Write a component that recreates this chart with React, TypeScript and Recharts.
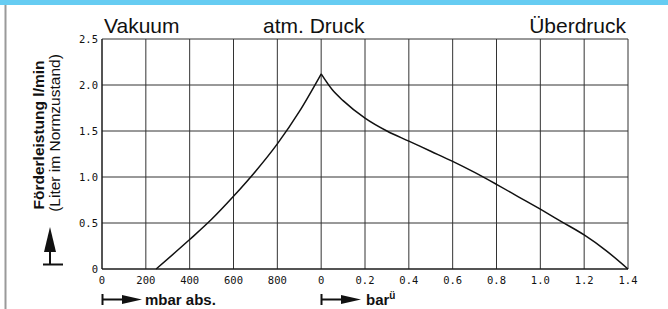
import React from "react"
import {
  LineChart,
  Line,
  XAxis,
  YAxis,
  CartesianGrid
} from "recharts"

// vacuum side (mbar abs.) and overpressure side (bar ü)
const vacuumMbar = [247, 400, 500, 600, 700, 800, 900, 1000]
const vacuumFlow = [0, 0.32, 0.54, 0.79, 1.06, 1.36, 1.71, 2.12]

const pressureBar = [0, 0.05, 0.1, 0.2, 0.3, 0.4, 0.5, 0.6, 0.7, 0.8, 0.9, 1.0, 1.1, 1.2, 1.3, 1.4]
const pressureFlow = [2.12, 1.95, 1.83, 1.64, 1.5, 1.39, 1.28, 1.17, 1.05, 0.92, 0.785, 0.65, 0.51, 0.37, 0.2, 0]

const xTickLabels = ["0", "200", "400", "600", "800", "0", "0.2", "0.4", "0.6", "0.8", "1.0", "1.2", "1.4"]
const yTicks = [0, 0.5, 1, 1.5, 2, 2.5]

// one shared axis: 200 mbar and 0.2 bar are both one grid step
const data = [
  ...vacuumMbar.map((m, i) => ({
    pos: m / 200,
    vac: vacuumFlow[i],
    over: i === vacuumMbar.length - 1 ? pressureFlow[0] : null
  })),
  ...pressureBar.slice(1).map((b, i) => ({
    pos: 5 + b / 0.2,
    vac: null,
    over: pressureFlow[i + 1]
  }))
]

const tickFont = { fontFamily: "DejaVu Sans Mono", fontSize: 10.5, fill: "#111" }
const sans = "Liberation Sans, Arial, sans-serif"

export default function App() {
  return (
    <div style={{ position: "relative", width: 668, height: 309, background: "#fff" }}>
      <style>{`body{margin:0}`}</style>

      <LineChart
        width={668}
        height={309}
        data={data}
        margin={{ top: 39, right: 40, bottom: 20, left: 72 }}
      >
        <CartesianGrid stroke="#333" strokeWidth={1} />

        <XAxis
          dataKey="pos"
          type="number"
          domain={[0, 12]}
          ticks={xTickLabels.map((_, i) => i)}
          tickFormatter={(v: number) => xTickLabels[v]}
          tick={tickFont}
          tickLine={false}
          axisLine={{ stroke: "#111" }}
          height={20}
          interval={0}
        />

        <YAxis
          type="number"
          domain={[0, 2.5]}
          ticks={yTicks}
          tickFormatter={(v: number) => (v === 0 ? "0" : v.toFixed(1))}
          tick={tickFont}
          tickLine={false}
          tickSize={2}
          axisLine={{ stroke: "#111" }}
          width={30}
          interval={0}
        />

        <Line
          dataKey="vac"
          type="monotone"
          stroke="#111"
          strokeWidth={1.5}
          dot={false}
          isAnimationActive={false}
        />
        <Line
          dataKey="over"
          type="monotone"
          stroke="#111"
          strokeWidth={1.5}
          dot={false}
          isAnimationActive={false}
        />
      </LineChart>

      <svg
        width={668}
        height={309}
        style={{ position: "absolute", left: 0, top: 0, pointerEvents: "none" }}
      >
        <rect x={0} y={0} width={668} height={5} fill="#66CCF2" />
        <line x1={5.5} y1={5} x2={5.5} y2={309} stroke="#9a9a9a" strokeWidth={2} />

        <g fontFamily={sans} fontSize={21} fill="#111">
          <text x={104} y={33}>Vakuum</text>
          <text x={263} y={33}>atm. Druck</text>
          <text x={626} y={33} textAnchor="end">Überdruck</text>
        </g>

        <g fontFamily={sans} fontSize={15.5} fill="#111">
          <text transform="translate(44,135) rotate(-90)" textAnchor="middle" fontWeight="bold">
            Förderleistung l/min
          </text>
          <text transform="translate(60,133) rotate(-90)" textAnchor="middle">
            (Liter im Normzustand)
          </text>
        </g>

        {/* up arrow */}
        <polygon points="50,227 44,252 56,252" fill="#111" />
        <line x1={50} y1={252} x2={50} y2={264} stroke="#111" strokeWidth={2} />
        <line x1={43} y1={264.5} x2={63} y2={264.5} stroke="#111" strokeWidth={2} />

        {/* mbar arrow */}
        <line x1={102.5} y1={294} x2={102.5} y2={305} stroke="#111" strokeWidth={2} />
        <line x1={102} y1={299.5} x2={123} y2={299.5} stroke="#111" strokeWidth={2} />
        <polygon points="122,295 142,299.5 122,304" fill="#111" />
        <text x={145} y={305} fontFamily={sans} fontSize={15} fontWeight="bold" fill="#111">
          mbar abs.
        </text>

        {/* bar arrow */}
        <line x1={321.5} y1={294} x2={321.5} y2={305} stroke="#111" strokeWidth={2} />
        <line x1={321} y1={299.5} x2={342} y2={299.5} stroke="#111" strokeWidth={2} />
        <polygon points="341,295 361,299.5 341,304" fill="#111" />
        <text x={366} y={305} fontFamily={sans} fontSize={15} fontWeight="bold" fill="#111">
          bar
          <tspan fontSize={10} dy={-6}>ü</tspan>
        </text>
      </svg>
    </div>
  )
}
